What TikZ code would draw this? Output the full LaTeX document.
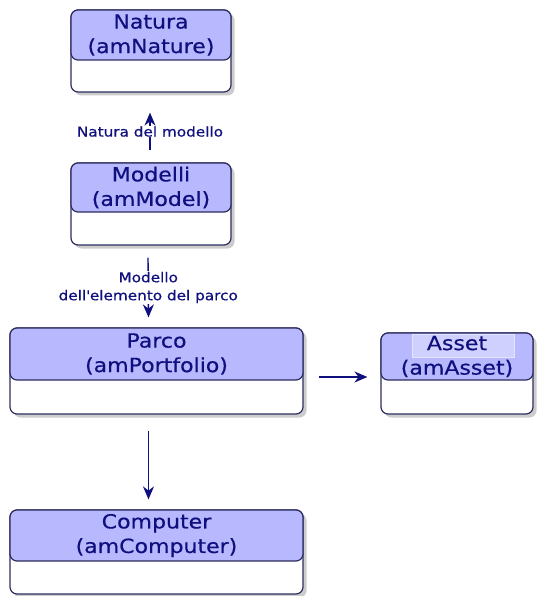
\documentclass[tikz,border=0pt]{standalone}
\usepackage{fontspec}
\setmainfont{DejaVu Sans}[FakeStretch=1.13, FakeBold=0.5]
\usetikzlibrary{
    positioning,
    arrows.meta,
    shadows
}
\definecolor{navy}{RGB}{15,15,125}
\definecolor{lavender}{RGB}{184,184,255}
\definecolor{frame}{RGB}{45,45,95}
\definecolor{hilite}{RGB}{208,208,255}
\definecolor{hiliteedge}{RGB}{228,228,255}
\tikzset{
    table/.style={draw=frame, line width=1.2pt, rounded corners=7pt, fill=white,
        drop shadow={opacity=0.4, shadow xshift=3.5pt, shadow yshift=-3.5pt}},
    header/.style={draw=frame, line width=1.2pt, rounded corners=7pt, fill=lavender,
        text=navy, align=center, inner sep=0pt, anchor=north,
        font=\fontsize{19.5}{24.5}\selectfont},
    link/.style={navy, line width=1.4pt, -{Stealth[length=13pt,width=11pt]}},
    linklabel/.style={fill=white, text=navy, align=center, inner sep=0.5pt,
        font=\fontsize{13.5}{18}\selectfont}
}

\begin{document}
\begin{tikzpicture}[x=1pt, y=-1pt]
    \useasboundingbox (0,0) rectangle (536,596);

    % Tables
    \node[table, minimum width=160pt, minimum height=82pt] (natura) at (151,51) {};
    \node[header, minimum width=160pt, minimum height=50pt] (naturaT) at (natura.north)
        {Natura\\(amNature)};

    \node[table, minimum width=160pt, minimum height=82pt] (modelli) at (151,204) {};
    \node[header, minimum width=160pt, minimum height=49pt] (modelliT) at (modelli.north)
        {Modelli\\(amModel)};

    \node[table, minimum width=293pt, minimum height=86pt] (parco) at (156.5,371) {};
    \node[header, minimum width=293pt, minimum height=52pt] (parcoT) at (parco.north)
        {Parco\\(amPortfolio)};

    \node[table, minimum width=152pt, minimum height=81pt] (asset) at (457,373.5) {};
    \node[header, minimum width=152pt, minimum height=47pt,
        path picture={\draw[fill=hilite, draw=hiliteedge, line width=1pt, sharp corners]
            ([xshift=-45pt,yshift=-1pt]path picture bounding box.north)
            rectangle ++(102pt,-23pt);}] (assetT) at (asset.north)
        {Asset\\(amAsset)};

    \node[table, minimum width=293pt, minimum height=84pt] (computer) at (156.5,552) {};
    \node[header, minimum width=293pt, minimum height=51pt] (computerT) at (computer.north)
        {Computer\\(amComputer)};

    % Links
    \draw[link] ([xshift=-1pt,yshift=12pt]modelli.north)
        -- node[linklabel] {Natura del modello} ([xshift=-1pt,yshift=-20pt]natura.south);
    \draw[link] ([xshift=-3pt,yshift=-12pt]modelli.south)
        -- node[linklabel] {Modello\\dell\textquotesingle elemento del parco}
        ([xshift=-8pt,yshift=10pt]parco.north);
    \draw[link] ([xshift=15pt,yshift=-6pt]parco.east) -- ([xshift=-13pt,yshift=-3.5pt]asset.west);
    \draw[link] ([xshift=-8pt,yshift=-16pt]parco.south) -- ([xshift=-8pt,yshift=10pt]computer.north);
\end{tikzpicture}
\end{document}
